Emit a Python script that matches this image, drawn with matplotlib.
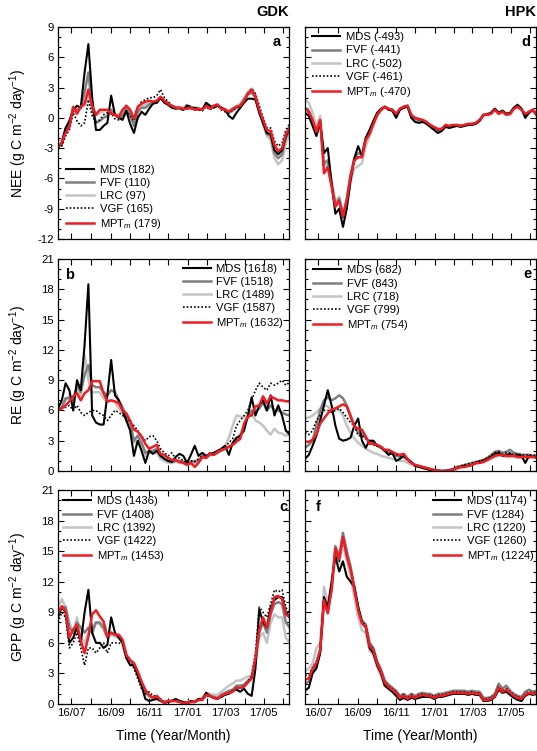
import numpy as np
import matplotlib
matplotlib.use("Agg")
import matplotlib.pyplot as plt
import matplotlib.transforms as mtransforms

plt.rcParams['font.family'] = ['Liberation Sans', 'DejaVu Sans']
plt.rcParams['mathtext.fontset'] = 'custom'
plt.rcParams['mathtext.rm'] = 'Liberation Sans'
plt.rcParams['mathtext.it'] = 'Liberation Sans:italic'
plt.rcParams['axes.unicode_minus'] = False

# ---------------- data (sampled every 6 days from 2016-06-10) ----------------
start_date = np.datetime64('2016-06-10')
step_days = 6
n_pts = 62
dates = start_date + np.arange(n_pts) * np.timedelta64(step_days, 'D')

methods = ['MDS', 'FVF', 'LRC', 'VGF', 'MPT$_{m}$']

# NEE GDK (a)
MDS_a = [-2.8,-2.5,-1.0,-0.3,0.8,1.2,1.0,4.5,7.3,2.0,-1.2,-1.2,-0.8,-0.5,2.2,0.3,0.0,-0.2,0.7,-0.6,-1.5,0.0,0.6,0.3,0.9,1.4,1.5,2.0,1.5,1.3,1.0,0.9,1.0,0.8,1.2,1.0,1.0,0.9,0.8,1.5,1.2,1.0,1.2,1.0,0.8,0.2,-0.1,0.5,1.0,1.5,1.9,1.9,1.8,0.5,-0.5,-1.5,-1.6,-3.2,-3.6,-3.2,-1.8,-1.0]
FVF_a = [-2.9,-2.6,-1.2,-0.6,0.9,0.8,1.0,2.5,4.5,1.0,-0.5,-0.3,0.0,0.2,0.8,0.3,0.1,0.2,0.9,0.3,-0.8,0.6,1.0,1.0,1.3,1.5,1.5,2.0,1.6,1.3,1.1,1.0,0.9,0.8,1.1,0.9,0.9,0.8,0.8,1.3,1.0,1.1,1.2,1.0,0.8,0.5,0.7,1.0,1.2,1.8,2.3,2.5,2.0,0.6,-0.5,-1.6,-1.8,-3.5,-4.0,-3.6,-2.0,-1.2]
LRC_a = [-2.2,-2.2,-1.0,-0.5,1.0,0.5,1.0,1.2,2.2,1.0,0.3,0.5,0.6,0.8,0.7,0.4,0.3,0.5,1.2,0.6,-0.3,0.8,1.2,1.3,1.5,1.6,1.6,2.0,1.7,1.5,1.2,1.1,1.1,1.0,1.3,1.1,1.0,1.0,0.9,1.4,1.1,1.2,1.4,1.0,0.9,0.7,0.9,1.2,1.4,2.0,2.6,2.9,2.2,0.8,-0.6,-1.8,-2.2,-4.0,-4.6,-4.2,-2.5,-1.5]
VGF_a = [-3.0,-2.8,-1.8,-1.2,0.5,-0.3,-0.8,-0.5,1.8,0.2,-0.4,-0.2,0.3,0.5,0.5,-0.1,-0.2,0.0,0.6,0.2,-0.3,1.0,1.6,1.8,2.0,2.0,2.2,2.8,2.0,1.6,1.2,1.0,1.0,0.8,1.3,1.1,0.8,0.8,0.7,1.1,0.8,1.0,1.3,0.8,0.6,0.5,0.8,1.0,1.2,1.7,2.4,2.9,2.4,1.2,0.0,-1.0,-1.0,-2.3,-2.8,-2.5,-1.2,-0.6]
MPT_a = [-2.9,-2.4,-1.5,-0.9,1.1,0.4,1.1,1.4,2.8,1.2,0.3,0.8,0.8,0.8,0.4,0.3,0.1,0.8,1.2,0.8,-0.1,1.1,1.4,1.6,1.7,1.6,1.7,2.1,1.7,1.4,1.2,1.0,1.0,0.9,0.9,1.0,0.8,0.9,0.8,1.2,0.9,1.2,1.3,0.9,0.8,0.6,0.9,1.1,1.2,1.7,2.4,2.8,2.1,0.8,-0.2,-1.2,-1.3,-2.7,-3.3,-3.0,-1.6,-1.0]

# NEE HPK (d)
MDS_d = [0.5,0.2,-0.8,-1.8,-0.5,-3.5,-3.0,-6.5,-9.5,-9.0,-10.8,-9.0,-6.2,-4.0,-2.8,-3.8,-2.0,-1.2,-0.3,0.5,0.9,1.1,0.8,0.7,0.0,0.8,1.0,1.1,0.0,-0.4,-0.5,-0.4,-0.6,-0.9,-1.2,-1.5,-1.3,-0.9,-1.0,-0.9,-0.8,-0.9,-0.8,-0.7,-0.7,-0.6,-0.3,0.3,0.3,0.5,0.9,0.5,0.7,0.4,0.5,1.0,1.3,0.9,0.0,0.5,0.8,0.3]
FVF_d = [1.0,0.7,-0.3,-1.2,-0.3,-4.5,-4.2,-6.5,-8.6,-8.0,-9.6,-8.0,-5.6,-4.0,-3.5,-3.6,-2.0,-1.3,-0.5,0.3,0.8,1.1,0.9,0.8,0.3,0.9,1.1,1.2,0.2,-0.1,-0.2,-0.3,-0.5,-0.8,-1.0,-1.2,-1.1,-0.8,-0.8,-0.8,-0.7,-0.8,-0.7,-0.6,-0.6,-0.5,-0.2,0.3,0.4,0.5,0.9,0.5,0.7,0.4,0.4,1.0,1.2,0.9,0.3,0.6,0.8,0.3]
LRC_d = [1.8,1.5,0.5,-0.8,0.2,-4.8,-4.5,-6.2,-8.3,-7.8,-9.3,-8.5,-6.3,-5.0,-4.8,-4.5,-2.8,-1.8,-0.8,0.2,0.7,1.0,0.9,0.8,0.3,0.8,1.0,1.2,0.2,-0.1,-0.3,-0.3,-0.5,-0.8,-1.0,-1.2,-1.1,-0.8,-0.9,-0.8,-0.8,-0.8,-0.8,-0.7,-0.6,-0.5,-0.3,0.2,0.3,0.4,0.8,0.4,0.6,0.3,0.3,0.9,1.1,0.8,0.3,0.5,0.7,0.2]
VGF_d = [0.8,0.5,-0.3,-1.4,-0.3,-5.3,-4.8,-6.6,-8.8,-8.3,-9.9,-8.3,-5.9,-4.3,-3.9,-3.9,-2.2,-1.5,-0.6,0.3,0.8,1.1,0.9,0.8,0.3,0.9,1.1,1.2,0.2,0.0,-0.2,-0.3,-0.5,-0.8,-1.0,-1.2,-1.1,-0.8,-0.8,-0.8,-0.7,-0.8,-0.7,-0.6,-0.6,-0.5,-0.2,0.3,0.3,0.4,0.9,0.5,0.6,0.3,0.4,0.9,1.2,0.8,0.3,0.6,0.8,0.3]
MPT_d = [0.9,0.6,-0.2,-1.4,-0.2,-5.5,-4.9,-6.8,-8.8,-8.2,-9.8,-8.2,-5.8,-4.2,-3.9,-3.9,-2.2,-1.6,-0.6,0.3,0.8,1.1,0.9,0.8,0.4,0.9,1.1,1.2,0.3,0.0,-0.1,-0.2,-0.4,-0.7,-0.9,-1.1,-1.1,-0.7,-0.8,-0.7,-0.7,-0.8,-0.7,-0.6,-0.6,-0.5,-0.2,0.3,0.3,0.4,0.8,0.4,0.6,0.3,0.4,0.9,1.1,0.8,0.4,0.6,0.8,0.3]

# RE GDK (b)
MDS_b = [6.2,7.0,8.7,8.0,6.0,9.0,8.0,12.5,18.5,5.5,4.8,4.6,4.6,7.5,11.0,7.5,7.0,6.0,5.0,4.0,1.5,3.0,2.0,0.8,2.0,1.7,2.0,1.5,1.2,1.0,0.9,1.4,1.7,1.5,0.8,1.6,2.5,1.5,1.8,1.5,1.7,1.8,2.0,2.2,2.5,1.6,2.8,3.3,3.5,4.0,5.5,7.3,5.5,6.5,7.0,6.0,7.5,5.5,6.5,5.5,4.0,3.6]
FVF_b = [6.0,6.3,7.2,7.2,7.0,8.5,7.8,9.5,10.5,8.5,8.3,8.3,7.8,7.5,8.0,7.8,7.0,6.3,5.5,4.8,3.0,3.5,2.8,1.8,2.0,2.0,2.2,1.5,1.3,1.0,0.9,1.0,1.0,0.9,0.7,0.9,1.0,1.0,1.5,1.3,1.6,1.6,1.8,2.0,2.2,2.4,2.6,3.0,3.5,4.5,5.3,6.0,5.8,6.2,6.8,6.0,6.5,6.0,6.0,5.8,5.6,5.5]
LRC_b = [6.5,6.5,7.0,7.5,7.2,8.0,7.5,11.5,9.0,7.8,7.8,7.8,7.2,6.8,7.0,6.8,6.2,5.8,5.0,4.2,2.8,3.0,2.5,1.5,1.8,1.8,1.8,1.2,1.0,0.8,0.8,0.9,0.8,0.8,0.6,0.8,0.8,0.9,1.3,1.3,1.6,1.6,1.8,2.1,2.5,3.3,4.5,5.5,5.4,5.3,5.5,5.8,5.0,4.8,4.5,4.0,3.6,4.2,3.8,3.7,3.5,3.6]
VGF_b = [6.0,6.2,6.3,6.5,6.0,6.5,5.8,5.5,5.8,6.0,6.0,5.7,5.5,5.0,5.5,6.0,5.8,5.5,5.3,4.8,4.5,4.0,3.5,3.0,3.4,3.5,3.0,2.2,1.8,1.5,1.8,1.2,1.3,1.0,0.8,1.0,0.9,1.2,1.5,1.4,1.8,1.7,2.0,2.2,2.4,2.8,3.2,4.5,5.0,5.5,6.0,7.0,8.0,8.7,8.3,8.0,8.7,8.5,8.7,9.0,8.5,8.8]
MPT_b = [6.0,6.2,6.5,6.9,7.4,7.7,7.0,7.7,8.0,8.9,8.9,8.9,7.7,6.9,7.0,6.9,6.7,6.0,5.7,5.0,4.1,3.9,3.4,2.7,2.2,2.4,2.6,1.7,1.6,1.3,1.1,1.1,0.9,0.8,0.6,0.8,0.4,0.8,1.4,1.3,1.7,1.6,1.9,2.1,2.2,2.4,2.6,2.9,3.2,4.7,5.4,5.5,6.4,6.5,7.4,6.7,7.4,7.2,7.0,7.0,6.9,6.9]

# RE HPK (e)
MDS_e = [1.2,1.6,2.5,3.5,5.0,6.5,8.0,6.5,4.5,3.2,3.0,3.1,3.3,4.5,5.2,3.0,2.3,3.0,3.0,2.5,2.4,2.0,1.6,1.8,1.0,1.2,1.5,1.2,0.9,0.5,0.4,0.3,0.2,0.1,0.05,0.0,0.0,0.0,0.05,0.1,0.3,0.4,0.5,0.5,0.6,0.8,0.9,1.0,1.2,1.4,1.7,1.8,1.5,1.6,1.7,1.5,1.6,1.5,0.8,1.5,1.4,1.4]
FVF_e = [2.3,2.6,3.0,4.5,6.0,7.0,7.3,7.0,7.2,7.5,7.2,6.5,5.5,4.5,3.8,3.6,3.3,2.9,2.8,2.5,2.3,2.0,1.9,1.7,1.5,1.4,1.4,1.1,0.8,0.6,0.5,0.4,0.3,0.2,0.1,0.05,0.0,0.05,0.1,0.2,0.4,0.5,0.6,0.7,0.8,0.9,1.0,1.1,1.3,1.6,1.9,2.0,1.8,1.9,2.1,1.8,1.7,1.6,1.6,1.6,1.5,1.5]
LRC_e = [5.2,5.3,5.5,5.8,6.2,6.5,6.4,6.0,6.2,6.0,5.5,4.5,3.8,3.2,2.8,2.5,2.2,2.0,1.8,1.7,1.5,1.4,1.3,1.2,1.1,1.0,1.0,0.8,0.6,0.5,0.4,0.3,0.2,0.1,0.05,0.0,0.0,0.0,0.05,0.1,0.2,0.3,0.4,0.5,0.6,0.7,0.8,0.9,1.0,1.2,1.4,1.5,1.5,1.4,1.4,1.4,1.3,1.3,1.3,1.3,1.3,1.3]
VGF_e = [3.8,3.6,4.0,5.0,5.5,6.0,6.0,5.8,6.0,6.2,5.8,5.3,4.8,4.5,3.5,3.5,3.2,2.7,2.6,2.5,2.3,2.0,2.0,1.8,1.6,1.5,1.5,1.1,0.8,0.6,0.5,0.4,0.3,0.2,0.1,0.05,0.0,0.05,0.1,0.2,0.4,0.5,0.6,0.7,0.8,0.9,1.0,1.1,1.3,1.5,1.8,1.9,1.7,1.8,1.8,1.6,1.7,1.6,1.6,1.6,1.6,1.5]
MPT_e = [2.9,2.9,3.1,3.6,4.7,5.2,5.7,6.1,6.2,6.4,6.6,6.4,5.4,4.4,4.2,4.1,3.4,2.7,2.7,2.6,2.4,2.1,2.1,1.9,1.7,1.6,1.7,1.2,0.8,0.6,0.5,0.4,0.3,0.2,0.1,0.05,0.0,0.0,0.05,0.1,0.3,0.4,0.4,0.5,0.6,0.8,0.8,0.9,1.1,1.3,1.5,1.6,1.6,1.5,1.5,1.5,1.4,1.4,1.4,1.4,1.4,1.3]

# GPP GDK (c)
MDS_c = [8.5,9.5,9.0,6.0,6.5,7.5,6.0,9.0,11.2,7.0,6.0,6.0,5.5,5.8,8.5,7.0,6.5,6.0,4.5,3.8,3.8,2.8,1.8,0.5,0.3,0.4,0.5,0.3,0.1,0.2,0.3,0.5,0.3,0.2,0.1,0.3,0.2,0.5,0.4,1.1,0.8,0.6,0.5,0.7,0.9,1.0,1.3,1.4,1.2,1.5,1.0,0.8,3.5,9.3,8.0,7.5,9.5,10.2,10.5,10.5,9.0,8.5]
FVF_c = [9.0,9.5,9.5,7.5,7.0,8.0,7.5,7.0,7.5,7.0,8.0,8.0,7.5,6.5,7.0,6.8,6.7,6.2,4.8,4.3,4.0,3.0,2.0,1.2,0.8,0.6,0.7,0.4,0.2,0.3,0.3,0.3,0.2,0.1,0.1,0.2,0.2,0.4,0.5,0.9,0.8,0.7,0.6,0.9,1.1,1.3,1.4,1.8,1.8,1.9,2.3,2.6,4.0,7.0,8.0,7.0,8.8,9.8,10.0,9.8,8.0,7.5]
LRC_c = [9.5,10.3,9.5,8.0,7.0,8.5,6.5,6.0,7.0,7.5,8.0,7.8,7.3,6.5,6.8,6.6,6.5,6.0,4.6,4.2,3.8,2.8,1.8,1.0,0.7,0.6,0.7,0.4,0.2,0.3,0.3,0.4,0.3,0.2,0.2,0.3,0.3,0.5,0.6,1.1,1.0,0.9,0.9,1.2,1.5,1.8,2.0,2.3,2.3,2.5,2.7,2.8,4.5,6.5,7.0,6.0,8.0,8.8,8.5,8.5,6.5,6.0]
VGF_c = [8.0,9.0,8.5,5.5,6.0,7.0,5.5,3.8,5.5,5.5,5.0,5.5,6.0,5.0,6.0,6.0,6.0,5.8,4.5,4.2,3.5,2.5,1.5,1.0,1.2,0.8,0.8,0.5,0.2,0.3,0.3,0.3,0.2,0.1,0.1,0.2,0.2,0.4,0.4,0.8,0.7,0.6,0.5,0.7,0.9,1.0,1.2,1.5,1.5,1.8,2.2,2.8,5.0,9.5,9.0,8.5,9.8,11.2,11.0,11.2,9.5,8.8]
MPT_c = [8.9,9.6,9.1,6.5,7.3,7.8,6.2,5.0,6.6,8.8,9.2,8.6,8.1,6.6,7.0,6.8,6.8,6.3,4.8,4.3,4.0,3.2,2.2,1.4,0.9,0.6,0.8,0.4,0.1,0.3,0.3,0.3,0.2,0.1,0.1,0.2,0.2,0.4,0.4,0.9,0.8,0.6,0.5,0.8,1.0,1.1,1.2,1.6,1.6,1.7,2.1,2.5,4.5,7.3,8.5,7.5,9.0,10.5,10.6,10.3,8.8,8.5]

# GPP HPK (f)
MDS_f = [1.3,1.6,3.0,3.5,5.0,10.5,9.5,12.0,14.5,13.0,14.0,12.5,12.0,11.5,9.5,8.0,7.5,5.5,5.0,3.8,3.0,1.8,1.5,1.2,0.8,0.4,0.6,0.4,0.6,0.5,0.6,0.7,0.7,0.7,0.5,0.7,0.7,0.8,0.9,1.0,1.0,1.0,1.0,0.9,1.0,0.9,0.9,0.3,0.3,0.4,0.7,1.4,1.1,1.2,0.9,0.6,0.4,0.3,0.8,1.0,0.9,1.0]
FVF_f = [2.0,2.2,3.2,3.8,5.2,10.0,9.0,11.5,15.5,14.5,16.8,15.0,13.5,11.5,9.5,8.2,7.8,6.0,5.5,4.2,3.4,2.3,1.9,1.6,1.3,0.8,1.0,0.7,1.0,0.8,1.0,1.1,1.0,1.0,0.8,1.0,1.0,1.1,1.2,1.3,1.3,1.3,1.3,1.2,1.3,1.2,1.2,0.6,0.6,0.7,1.0,2.0,1.5,1.8,1.3,1.0,0.8,0.7,1.2,1.4,1.2,1.3]
LRC_f = [3.2,3.5,4.0,5.5,6.0,11.5,10.0,11.0,14.8,13.8,15.8,14.0,12.5,10.5,8.5,7.2,7.0,5.2,4.8,3.6,2.8,1.8,1.5,1.2,0.9,0.5,0.7,0.4,0.7,0.5,0.7,0.8,0.7,0.7,0.5,0.7,0.7,0.8,0.9,1.0,1.0,1.0,1.0,0.9,1.0,0.9,0.9,0.3,0.3,0.4,0.7,1.5,1.1,1.3,1.0,0.7,0.5,0.4,0.8,1.0,0.9,1.0]
VGF_f = [2.8,2.9,3.6,4.2,5.4,10.3,9.0,11.3,15.2,14.0,16.2,14.6,13.3,11.4,9.6,8.0,7.8,5.9,5.4,4.1,3.3,2.2,1.8,1.5,1.2,0.7,0.9,0.6,0.9,0.7,0.9,1.0,0.9,0.9,0.7,0.9,0.9,1.0,1.1,1.2,1.2,1.2,1.2,1.1,1.2,1.1,1.1,0.5,0.5,0.6,0.9,1.7,1.3,1.5,1.2,0.9,0.7,0.6,1.0,1.2,1.1,1.2]
MPT_f = [2.4,2.5,3.5,4.0,5.3,10.2,8.9,11.2,15.3,14.2,16.4,14.5,13.2,11.2,9.2,7.9,7.6,5.7,5.3,4.0,3.2,2.1,1.7,1.4,1.1,0.6,0.8,0.5,0.8,0.6,0.8,0.9,0.8,0.8,0.6,0.8,0.8,0.9,1.0,1.1,1.1,1.1,1.1,1.0,1.1,1.0,1.0,0.4,0.4,0.5,0.8,1.6,1.2,1.4,1.1,0.8,0.6,0.5,0.9,1.1,1.0,1.1]

totals_a = [182, 110, 97, 165, 179]
totals_d = [-493, -441, -502, -461, -470]
totals_b = [1618, 1518, 1489, 1587, 1632]
totals_e = [682, 843, 718, 799, 754]
totals_c = [1436, 1408, 1392, 1422, 1453]
totals_f = [1174, 1284, 1220, 1260, 1224]

tick_months = ['2016-07-01', '2016-08-01', '2016-09-01', '2016-10-01', '2016-11-01', '2016-12-01',
               '2017-01-01', '2017-02-01', '2017-03-01', '2017-04-01', '2017-05-01', '2017-06-01']
tick_texts = ['16/07', '', '16/09', '', '16/11', '', '17/01', '', '17/03', '', '17/05', '']
x_start, x_end = '2016-06-10', '2017-06-10'

# ---------------- styles ----------------
styles = {
    'MDS': dict(color='black', lw=1.5, ls='-'),
    'FVF': dict(color='#7f7f7f', lw=1.8, ls='-'),
    'LRC': dict(color='#c4c4c4', lw=1.8, ls='-'),
    'VGF': dict(color='black', lw=1.2, ls=(0, (1, 1.2))),
    'MPT': dict(color='#ee1d23', lw=1.8, ls='-'),
}
draw_order = ['LRC', 'FVF', 'MDS', 'VGF', 'MPT']

W, H = 537, 751
fig = plt.figure(figsize=(W / 100, H / 100), dpi=100)

def rect(x0, y0, x1, y1):
    return [x0 / W, 1 - y1 / H, (x1 - x0) / W, (y1 - y0) / H]

axes = {
    'a': fig.add_axes(rect(58, 27, 289, 239)),
    'd': fig.add_axes(rect(305, 27, 536, 239)),
    'b': fig.add_axes(rect(58, 259, 289, 471)),
    'e': fig.add_axes(rect(305, 259, 536, 471)),
    'c': fig.add_axes(rect(58, 490, 289, 704)),
    'f': fig.add_axes(rect(305, 490, 536, 704)),
}

panel_data = {
    'a': (MDS_a, FVF_a, LRC_a, VGF_a, MPT_a, totals_a),
    'd': (MDS_d, FVF_d, LRC_d, VGF_d, MPT_d, totals_d),
    'b': (MDS_b, FVF_b, LRC_b, VGF_b, MPT_b, totals_b),
    'e': (MDS_e, FVF_e, LRC_e, VGF_e, MPT_e, totals_e),
    'c': (MDS_c, FVF_c, LRC_c, VGF_c, MPT_c, totals_c),
    'f': (MDS_f, FVF_f, LRC_f, VGF_f, MPT_f, totals_f),
}

legend_pos = {
    'a': (0.035, 0.35), 'd': (0.03, 0.975),
    'b': (0.54, 0.978), 'e': (0.035, 0.97),
    'c': (0.022, 0.97), 'f': (0.555, 0.97),
}

letter_pos = {
    'a': (0.945, 0.93), 'd': (0.955, 0.93),
    'b': (0.05, 0.925), 'e': (0.962, 0.93),
    'c': (0.975, 0.92), 'f': (0.055, 0.92),
}

tick_dates = [np.datetime64(t) for t in tick_months]
label_shift = mtransforms.ScaledTranslation(-4 / 100, 0, fig.dpi_scale_trans)

for key, ax in axes.items():
    mds, fvf, lrc, vgf, mpt, totals = panel_data[key]
    series = {'MDS': mds, 'FVF': fvf, 'LRC': lrc, 'VGF': vgf, 'MPT': mpt}
    lines = {}
    for name in draw_order:
        st = styles[name]
        ln, = ax.plot(dates, series[name], color=st['color'], lw=st['lw'],
                      ls=st['ls'], solid_joinstyle='round')
        lines[name] = ln
    handles = [lines[n] for n in ['MDS', 'FVF', 'LRC', 'VGF', 'MPT']]
    labels = [f'{m} ({t})' for m, t in zip(methods, totals)]
    ax.legend(handles, labels, loc='upper left', bbox_to_anchor=legend_pos[key],
              frameon=False, fontsize=8.1, handlelength=2.5, handletextpad=0.5,
              labelspacing=0.28, borderpad=0, borderaxespad=0)

    ax.set_xlim(np.datetime64(x_start), np.datetime64(x_end))
    if key in ('a', 'd'):
        ax.set_ylim(-12, 9)
        ax.set_yticks(np.arange(-12, 10, 3))
    else:
        ax.set_ylim(0, 21)
        ax.set_yticks(np.arange(0, 22, 3))
    ax.yaxis.set_minor_locator(matplotlib.ticker.MultipleLocator(1))
    ax.set_xticks(tick_dates)
    if key in ('c', 'f'):
        ax.set_xticklabels(tick_texts)
        ax.set_xlabel('Time (Year/Month)', fontsize=10, labelpad=8)
        for lab in ax.get_xticklabels():
            lab.set_transform(lab.get_transform() + label_shift)
    else:
        ax.set_xticklabels([])
    if key in ('d', 'e', 'f'):
        ax.set_yticklabels([])
    ax.tick_params(which='both', direction='in', top=True, right=True,
                   labelsize=8.2, width=0.8, pad=3)
    ax.tick_params(which='major', length=4)
    ax.tick_params(which='minor', length=2)
    for sp in ax.spines.values():
        sp.set_linewidth(0.9)
    lx, ly = letter_pos[key]
    ax.text(lx, ly, key, transform=ax.transAxes, ha='center', va='center',
            fontsize=10.5, fontweight='bold')

ylabels = {
    'a': 'NEE (g C m$^{-2}$ day$^{-1}$)',
    'b': 'RE (g C m$^{-2}$ day$^{-1}$)',
    'c': 'GPP (g C m$^{-2}$ day$^{-1}$)',
}
ycent = {'a': 133, 'b': 365, 'c': 597}
for key, lab in ylabels.items():
    fig.text(18 / W, 1 - ycent[key] / H, lab, rotation=90, ha='center', va='center',
             fontsize=10)

fig.text(289 / W, 1 - 12 / H, 'GDK', ha='right', va='center', fontsize=10.5, fontweight='bold')
fig.text(536 / W, 1 - 12 / H, 'HPK', ha='right', va='center', fontsize=10.5, fontweight='bold')

fig.savefig('out.png', dpi=100)
